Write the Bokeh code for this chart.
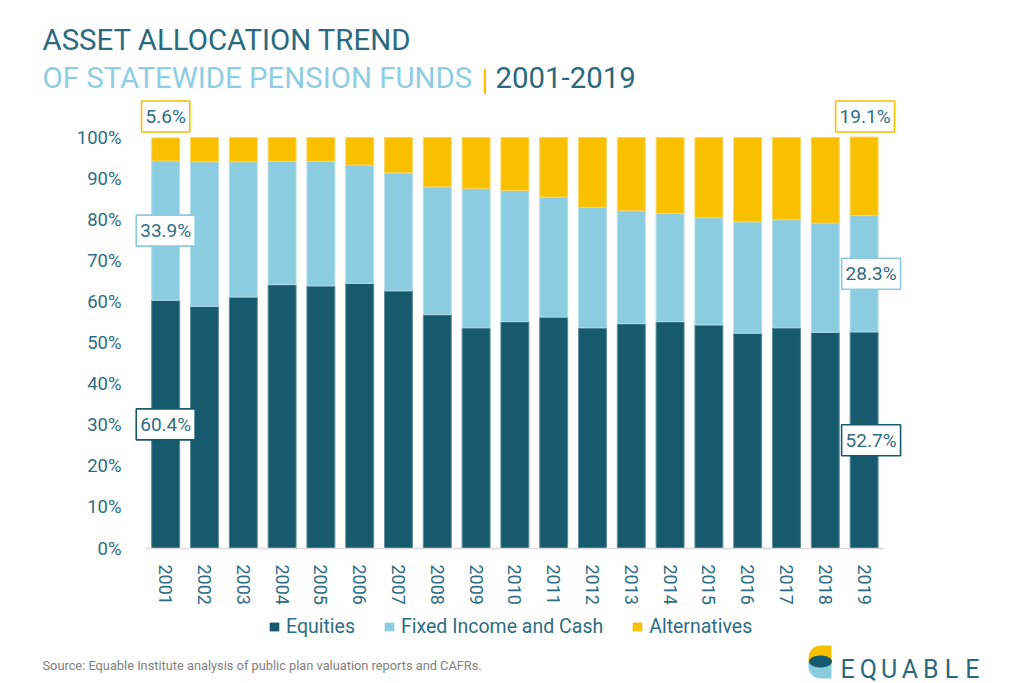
import math

from bokeh.embed import file_html
from bokeh.layouts import column
from bokeh.models import (ColumnDataSource, FixedTicker, Label, PolyAnnotation,
                          PrintfTickFormatter, Range1d)
from bokeh.plotting import figure
from bokeh.resources import INLINE

# ---- data (percent of total assets) ----
years = [str(y) for y in range(2001, 2020)]
equities = [60.4, 58.9, 61.2, 64.2, 63.9, 64.5, 62.7, 56.9, 53.7, 55.2,
            56.3, 53.7, 54.7, 55.2, 54.4, 52.4, 53.7, 52.6, 52.7]
fixed_income = [33.9, 35.2, 32.9, 30.0, 30.3, 28.8, 28.7, 31.1, 33.9, 31.9,
                29.2, 29.3, 27.5, 26.3, 26.1, 27.1, 26.3, 26.6, 28.3]
alternatives = [5.6, 5.9, 5.9, 5.8, 5.8, 6.7, 8.6, 12.0, 12.4, 12.9,
                14.5, 17.0, 17.8, 18.5, 19.5, 20.5, 20.0, 20.8, 19.1]
series = ["Equities", "Fixed Income and Cash", "Alternatives"]
y_ticks = list(range(0, 101, 10))

# ---- style ----
EQ = "#175a6e"
FI = "#8bcce0"
ALT = "#f9c000"
TXT = "#2e6d82"
TITLE_DARK = "#2b6a7e"
TITLE_LIGHT = "#8ecde2"
FONT = "Roboto"
W = 1024

HEADER_H = 95
MAIN_H = 515
FOOTER_H = 683 - HEADER_H - MAIN_H

# main plot frame (pixels within the main figure)
FRAME_L, FRAME_R = 130, 905
FRAME_B = 548 - HEADER_H
PITCH = 38.8           # pixels per category step
PX_PER_PCT = 4.11      # pixels per percentage point
X0 = -(165.2 - FRAME_L) / PITCH
X1 = X0 + (FRAME_R - FRAME_L) / PITCH
Y1 = FRAME_B / PX_PER_PCT


def blank(height, y_top):
    """A figure whose data space is plain page pixels (y grows downward)."""
    f = figure(width=W, height=height, x_range=Range1d(0, W),
               y_range=Range1d(y_top + height, y_top),
               x_axis_type=None, y_axis_type=None, output_backend="svg",
               toolbar_location=None, min_border=0, min_border_left=0,
               min_border_right=0, min_border_top=0, min_border_bottom=0,
               outline_line_color=None, background_fill_color="white",
               border_fill_color="white", frame_align=False)
    f.xgrid.visible = False
    f.ygrid.visible = False
    return f


# ---------------- header ----------------
header = blank(HEADER_H, 0)
header.add_layout(Label(x=42, y=39, text="ASSET ALLOCATION TREND",
                        text_font=FONT, text_font_size="29.4px", text_color=TITLE_DARK,
                        text_baseline="alphabetic"))
header.add_layout(Label(x=42, y=77, text="OF STATEWIDE PENSION FUNDS",
                        text_font=FONT, text_font_size="29.4px", text_color=TITLE_LIGHT,
                        text_baseline="alphabetic"))
header.add_layout(Label(x=481, y=79, text="|",
                        text_font=FONT, text_font_size="29px", text_color=ALT,
                        text_baseline="alphabetic"))
header.add_layout(Label(x=495, y=77, text="2001-2019",
                        text_font=FONT, text_font_size="29.4px", text_color=TITLE_DARK,
                        text_baseline="alphabetic"))

# ---------------- main chart ----------------
src = ColumnDataSource(dict(
    x=list(range(len(years))),
    **{series[0]: equities, series[1]: fixed_income, series[2]: alternatives},
))

p = figure(width=W, height=MAIN_H, x_range=Range1d(X0, X1), y_range=Range1d(0, Y1),
           output_backend="svg", toolbar_location=None,
           min_border_left=FRAME_L, min_border_right=W - FRAME_R,
           min_border_top=0, min_border_bottom=MAIN_H - FRAME_B,
           outline_line_color=None, background_fill_color="white",
           border_fill_color="white", frame_align=False)

bar_fill = [EQ, FI, ALT]
bar_edge = ["#5b8c9e", "#b3deeb", "#fbd560"]
p.vbar_stack(series, x="x", width=0.72, source=src,
             fill_color=bar_fill, line_color=bar_edge, line_width=1)

p.xgrid.visible = False
p.ygrid.visible = False

p.yaxis.ticker = FixedTicker(ticks=y_ticks)
p.yaxis.formatter = PrintfTickFormatter(format="%d%%")
p.yaxis.axis_line_color = None
p.yaxis.major_tick_line_color = None
p.yaxis.minor_tick_line_color = None
p.yaxis.major_label_standoff = 3
p.yaxis.major_label_text_font = FONT
p.yaxis.major_label_text_font_size = "18.5px"
p.yaxis.major_label_text_color = TXT

p.xaxis.ticker = FixedTicker(ticks=list(range(len(years))))
p.xaxis.major_label_overrides = {i: y for i, y in enumerate(years)}
p.xaxis.major_label_orientation = -math.pi / 2
p.xaxis.bounds = (-0.52, len(years) - 1 + 0.5)
p.xaxis.axis_line_color = "#d9d9d9"
p.xaxis.axis_line_width = 1.5
p.xaxis.major_tick_line_color = None
p.xaxis.minor_tick_line_color = None
p.xaxis.major_label_standoff = 10
p.xaxis.major_label_text_font = FONT
p.xaxis.major_label_text_font_size = "18px"
p.xaxis.major_label_text_color = TXT

# value callouts on the first and last year
last = len(years) - 1
callouts = [
    (0, 100 + 5.1, alternatives[0], ALT, 0),
    (0, equities[0] + fixed_income[0] / 2, fixed_income[0], FI, 0),
    (0, equities[0] / 2, equities[0], EQ, 0),
    (last, 100 + 5.1, alternatives[last], ALT, 1),
    (last, equities[last] + fixed_income[last] / 2, fixed_income[last], FI, 7),
    (last, equities[last] / 2, equities[last], EQ, 7),
]
for xi, yv, v, col, dx in callouts:
    p.add_layout(Label(x=xi, y=yv, x_offset=dx, text=f"{v:.1f}%",
                       text_align="center", text_baseline="middle",
                       text_font=FONT, text_font_size="19px", text_color=TXT,
                       background_fill_color="white", border_line_color=col,
                       border_line_width=1.6, padding=4))

# ---------------- footer: legend, source, logo ----------------
footer = blank(FOOTER_H, HEADER_H + MAIN_H)
# hidden copies of the stacked bars supply the legend swatches
footer.vbar_stack(series, x="x", width=0.72, source=src, fill_color=bar_fill,
                  line_color=None, visible=False, legend_label=series)
lg = footer.legend[0]
lg.orientation = "horizontal"
lg.location = (268, 45)
lg.background_fill_alpha = 0
lg.border_line_color = None
lg.padding = 0
lg.margin = 0
lg.spacing = 28
lg.label_standoff = 6
lg.glyph_width = 12
lg.glyph_height = 11
lg.label_text_font = FONT
lg.label_text_font_size = "19.5px"
lg.label_text_color = TXT

footer.add_layout(Label(x=42, y=665,
                        text="Source: Equable Institute analysis of public plan valuation reports and CAFRs.",
                        text_font=FONT, text_font_size="12.8px", text_color="#808080",
                        text_baseline="alphabetic"))


def arc(cx, cy, r, a0, a1, n=12):
    return [(cx + r * math.cos(math.radians(a0 + (a1 - a0) * k / n)),
             cy - r * math.sin(math.radians(a0 + (a1 - a0) * k / n))) for k in range(n + 1)]


def shape(points, color):
    footer.add_layout(PolyAnnotation(xs=[a for a, _ in points], ys=[b for _, b in points],
                                     fill_color=color, fill_alpha=1, line_color=None))


shape([(831, 645)] + arc(820, 657, 12, 90, 180) + [(808, 661), (831, 661)], ALT)
shape([(808, 661)] + arc(820, 666, 12, 180, 270) + [(831, 678), (831, 661)], FI)
shape([(820 + 11.5 * math.cos(t * math.pi / 24), 661 - 6 * math.sin(t * math.pi / 24))
       for t in range(48)], EQ)

for k, ch in enumerate("EQUABLE"):
    footer.add_layout(Label(x=847 + k * 20.8, y=669, text=ch,
                            text_align="center", text_baseline="alphabetic",
                            text_font=FONT, text_font_size="25px", text_color=TITLE_DARK))

page = column(header, p, footer, spacing=0)
open("out.html", "w").write(file_html(page, INLINE))
